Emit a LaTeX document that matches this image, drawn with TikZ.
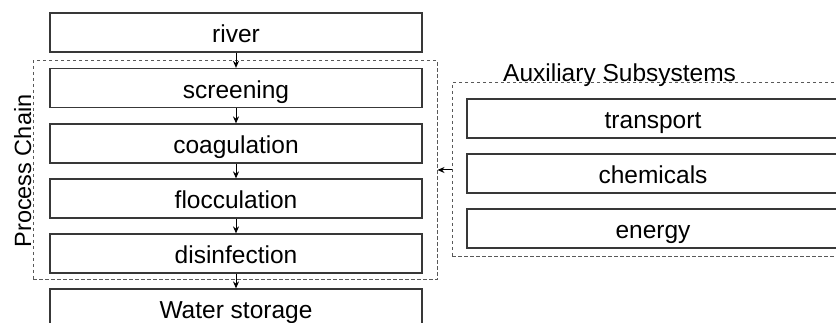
\documentclass[tikz,border=0pt]{standalone}
\usepackage{fontspec}
\setmainfont{Liberation Sans}
\usetikzlibrary{arrows.meta}
\begin{document}
\begin{tikzpicture}[x=1pt,y=-1pt,
  stepbox/.style={draw=black!78, line width=1.2pt, fill=white, inner sep=0pt,
    minimum width=372pt, minimum height=39pt, text height=23pt, text depth=2pt,
    font=\fontsize{24.5}{28}\selectfont},
  groupbox/.style={draw=black!65, line width=1pt, dash pattern=on 3.5pt off 2.5pt, inner sep=0pt},
  flow/.style={draw=black, line width=1pt, -{Stealth[length=7pt,width=6pt]}},
  title/.style={inner sep=0pt, font=\fontsize{24.5}{28}\selectfont}]
\useasboundingbox (0,0) rectangle (836,323);
\clip (0,0) rectangle (836,323);
% group boxes
\node[groupbox, minimum width=404pt, minimum height=219pt] (chain) at (235,170.5) {};
\node[groupbox, minimum width=404pt, minimum height=174pt] (aux) at (654,170) {};
% process chain
\node[stepbox] (river) at (236,32.5) {river};
\node[stepbox] (screening) at (236,88) {screening};
\node[stepbox] (coagulation) at (236,143.5) {coagulation};
\node[stepbox] (flocculation) at (236,198.5) {flocculation};
\node[stepbox] (disinfection) at (236,253.5) {disinfection};
\node[stepbox] (storage) at (236,308.5) {Water storage};
% auxiliary
\node[stepbox] (transport) at (653,118.5) {transport};
\node[stepbox] (chemicals) at (653,173.5) {chemicals};
\node[stepbox] (energy) at (653,228.5) {energy};
% labels
\node[title, rotate=90, anchor=base, font=\fontsize{23.5}{28}\selectfont] (pclabel) at (31,171) {Process Chain};
\node[title, anchor=base west] (auxlabel) at (503,82) {Auxiliary Subsystems};
% connectors
\draw[flow] (river) -- (screening);
\draw[flow] (screening) -- (coagulation);
\draw[flow] (coagulation) -- (flocculation);
\draw[flow] (flocculation) -- (disinfection);
\draw[flow] (disinfection) -- (storage);
\draw[flow] (aux.west) -- (aux.west -| chain.east);
\end{tikzpicture}
\end{document}
